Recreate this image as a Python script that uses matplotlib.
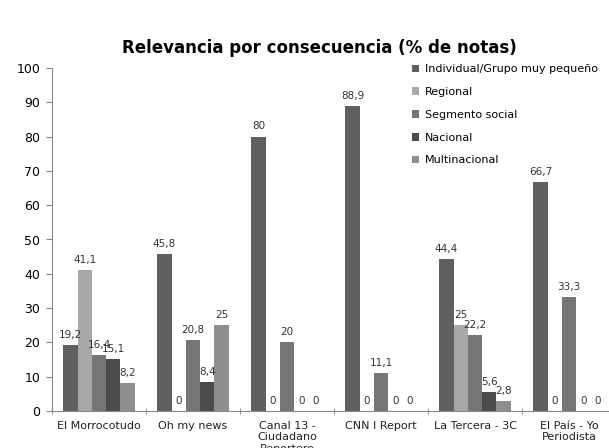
import matplotlib.pyplot as plt
import numpy as np

categorias = ["El Morrocotudo", "Oh my news", "Canal 13 -\nCiudadano\nReportero",
              "CNN I Report", "La Tercera - 3C", "El País - Yo\nPeriodista"]
series = ["Individual/Grupo muy pequeño", "Regional", "Segmento social",
          "Nacional", "Multinacional"]
individual = [19.2, 45.8, 80, 88.9, 44.4, 66.7]
regional = [41.1, 0, 0, 0, 25, 0]
segmento = [16.4, 20.8, 20, 11.1, 22.2, 33.3]
nacional = [15.1, 8.4, 0, 0, 5.6, 0]
multinacional = [8.2, 25, 0, 0, 2.8, 0]
valores = [individual, regional, segmento, nacional, multinacional]
colores = ["#5f5f5f", "#a8a8a8", "#767676", "#4b4b4b", "#8e8e8e"]

fig = plt.figure(figsize=(6.09, 4.48), dpi=100)
ax = fig.add_axes([52/609, 1-411/448, 564/609, 343/448])

x = np.arange(len(categorias))
w = 0.152
for i, (vals, c) in enumerate(zip(valores, colores)):
    pos = x + (i - 2) * w
    ax.bar(pos, vals, width=w, color=c, label=series[i], zorder=2)
    for p, v in zip(pos, vals):
        txt = ("%g" % v).replace(".", ",")
        ax.text(p, v + 1.5, txt, ha="center", va="bottom", fontsize=7.5,
                color="#333333", family="DejaVu Sans")

ax.set_xlim(-0.5, len(categorias) - 0.5)
ax.set_ylim(0, 100)
ax.set_yticks(range(0, 101, 10))
ax.set_xticks(x)
ax.set_xticklabels(categorias, fontsize=8, family="DejaVu Sans", color="#222222")
ax.set_xticks(np.arange(-0.5, len(categorias), 1), minor=True)
ax.tick_params(axis="x", which="major", length=0, pad=7)
ax.tick_params(axis="x", which="minor", length=4, direction="inout", color="#888888")
ax.tick_params(axis="y", labelsize=9, length=4, color="#888888", pad=4.5)
for s in ["top", "right"]:
    ax.spines[s].set_visible(False)
for s in ["left", "bottom"]:
    ax.spines[s].set_color("#888888")

ax.legend(loc="upper left", bbox_to_anchor=(0.62, 1.04), frameon=False,
          handlelength=0.7, handleheight=0.7, handletextpad=0.5,
          labelspacing=1.15, prop={"family": "DejaVu Sans", "size": 8})

fig.text(0.525, 1-48/448, "Relevancia por consecuencia (% de notas)", ha="center",
         va="center", fontsize=12, fontweight="bold", family="DejaVu Sans")

fig.savefig("out.png", dpi=100)
